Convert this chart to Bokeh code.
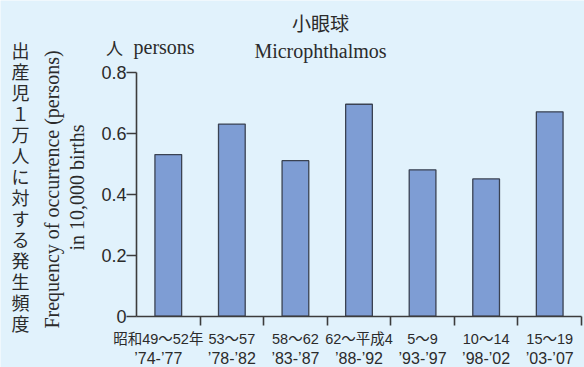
import math
from bokeh.plotting import figure
from bokeh.models import Range1d, FixedTicker, Label
from bokeh.core.properties import value
from bokeh.embed import file_html
from bokeh.resources import INLINE

# ---- data ----
period_labels = ["昭和49〜52年", "53〜57", "58〜62", "62〜平成4", "5〜9", "10〜14", "15〜19"]
year_labels = ["’74-’77", "’78-’82", "’83-’87", "’88-’92", "’93-’97", "’98-’02", "’03-’07"]
values = [0.53, 0.63, 0.51, 0.695, 0.48, 0.45, 0.67]
y_ticks = [0, 0.2, 0.4, 0.6, 0.8]
y_tick_labels = ["0", "0.2", "0.4", "0.6", "0.8"]

title_jp = "小眼球"
title_en = "Microphthalmos"
unit_jp = "人"
unit_en = "persons"
ylabel_jp = "出産児１万人に対する発生頻度"
ylabel_en1 = "Frequency of occurrence (persons)"
ylabel_en2 = "in 10,000 births"

# ---- style / geometry ----
BG = "#e1f2fc"
BAR = "#7e9dd4"
TXT = "#2b2b2b"
AX = "#3c3c3c"
W, H = 584, 367
N = len(values)
YMAX = 0.8
PX0, PXW = 136.0, 63.57      # pixel of x=0, pixels per category
PY0, PYU = 315.7, 305.0      # pixel of y=0, pixels per unit
SANS = "'Liberation Sans', 'Noto Sans CJK JP'"
SERIF = "'Liberation Serif'"
CJK = "'Noto Sans CJK JP'"
label_dx = [-10, 0, 0, 0, 0, 0, 0]   # pixel nudges of category labels


def wx(px):
    return (px - PX0) / PXW


def wy(py):
    return (PY0 - py) / PYU


p = figure(width=W, height=H, output_backend="svg", toolbar_location=None,
           x_range=Range1d(wx(0), wx(W)), y_range=Range1d(wy(H), wy(0)),
           min_border=0, min_border_left=0, min_border_right=0,
           min_border_top=0, min_border_bottom=0)
p.background_fill_color = BG
p.border_fill_color = BG
p.outline_line_color = None
p.grid.visible = False

xs = [i + 0.5 for i in range(N)]
p.vbar(x=xs, top=values, bottom=0, width=0.42, fill_color=BAR,
       line_color="#3a4252", line_width=1.3)

# y axis
ya = p.yaxis[0]
ya.fixed_location = 0
ya.bounds = (0, YMAX)
ya.ticker = FixedTicker(ticks=y_ticks)
ya.major_label_overrides = {t: l for t, l in zip(y_ticks, y_tick_labels)}
ya.major_label_text_font = SANS
ya.major_label_text_font_size = "18px"
ya.major_label_text_color = TXT
ya.major_label_standoff = 0
ya.major_tick_out = 10
ya.major_tick_in = 0
ya.minor_tick_line_color = None
ya.axis_line_color = AX
ya.axis_line_width = 1.6
ya.major_tick_line_color = AX
ya.major_tick_line_width = 1.6

# x axis (boundary ticks, no labels)
xa = p.xaxis[0]
xa.fixed_location = 0
xa.bounds = (0, N)
xa.ticker = FixedTicker(ticks=list(range(1, N + 1)))
xa.major_label_text_font_size = "0px"
xa.major_label_text_color = None
xa.major_tick_out = 9
xa.major_tick_in = 0
xa.minor_tick_line_color = None
xa.axis_line_color = AX
xa.axis_line_width = 1.6
xa.major_tick_line_color = AX
xa.major_tick_line_width = 1.6

# category labels
p.text(x=xs, y=[wy(338)] * N, text=period_labels, x_offset=label_dx,
       text_align="center", text_baseline="middle", text_font=value(SANS),
       text_font_size="14.5px", text_color=TXT)
p.text(x=xs, y=[wy(358)] * N, text=year_labels, x_offset=label_dx,
       text_align="center", text_baseline="middle", text_font=value(SANS),
       text_font_size="16px", text_color=TXT)

# titles
p.add_layout(Label(x=wx(320), y=wy(22), text=title_jp, text_align="center",
                   text_baseline="middle", text_font=CJK, text_font_size="19px",
                   text_color=TXT))
p.add_layout(Label(x=wx(320), y=wy(50), text=title_en, text_align="center",
                   text_baseline="middle", text_font=SERIF, text_font_size="20px",
                   text_color=TXT))
p.add_layout(Label(x=wx(114), y=wy(47), text=unit_jp, text_align="center",
                   text_baseline="middle", text_font=CJK, text_font_size="17px",
                   text_color=TXT))
p.add_layout(Label(x=wx(133), y=wy(46), text=unit_en, text_align="left",
                   text_baseline="middle", text_font=SERIF, text_font_size="20px",
                   text_color=TXT))

# y axis titles
p.add_layout(Label(x=wx(20), y=wy(186), text="\n".join(ylabel_jp), text_align="center",
                   text_baseline="middle", text_font=CJK, text_font_size="18px",
                   text_line_height=0.805, text_color=TXT))
p.add_layout(Label(x=wx(51), y=wy(189), text=ylabel_en1, angle=math.pi / 2,
                   text_align="center", text_baseline="middle", text_font=SERIF,
                   text_font_size="20px", text_color=TXT))
p.add_layout(Label(x=wx(76), y=wy(187), text=ylabel_en2, angle=math.pi / 2,
                   text_align="center", text_baseline="middle", text_font=SERIF,
                   text_font_size="20px", text_color=TXT))

open("out.html", "w").write(file_html(p, INLINE))
